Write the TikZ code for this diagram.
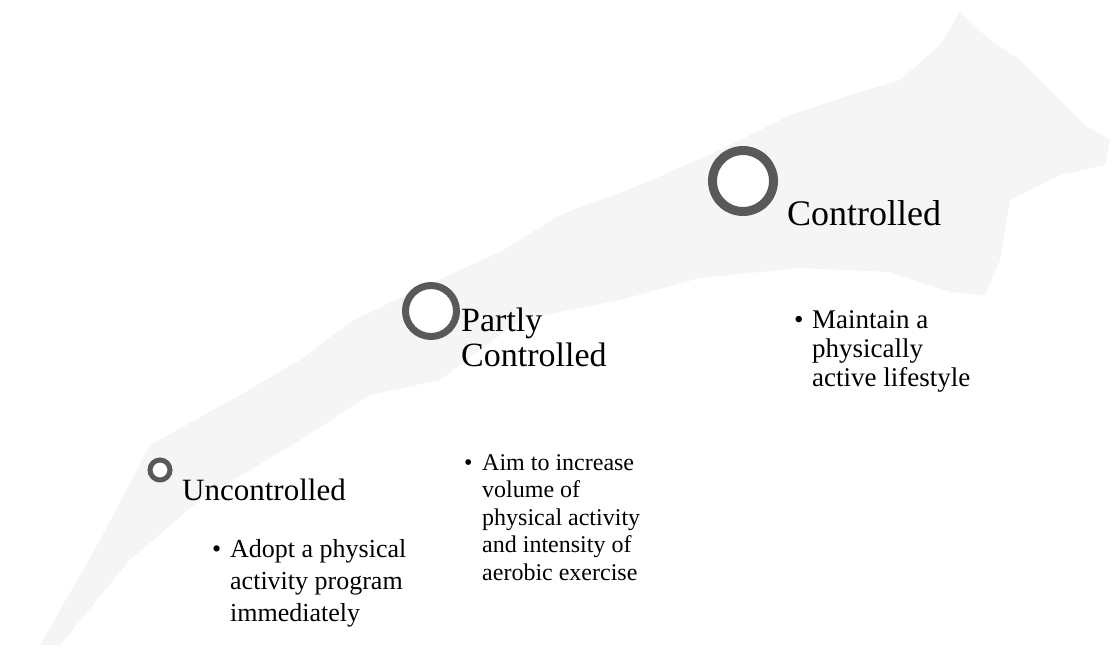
\documentclass[tikz,border=0pt]{standalone}
\usepackage{fontspec}
\setmainfont{Liberation Serif}
\begin{document}
\begin{tikzpicture}[x=1pt,y=-1pt,
  ring/.style={draw=black!65, line width=#1, fill=white},
  head/.style={anchor=north west, inner sep=0pt, align=left},
  bul/.style={anchor=north west, inner sep=0pt, align=left}]
\useasboundingbox (0,0) rectangle (1113,654);
% faint background band
\fill[black!4] (40,645) -- (100,540) -- (150,445) -- (240,395) -- (300,360) -- (350,322)
  -- (420,288) -- (500,252) -- (560,215) -- (640,185) -- (720,150) -- (790,115)
  -- (850,95) -- (900,80) -- (940,45) -- (960,12) -- (990,40) -- (1020,60)
  -- (1060,100) -- (1085,125) -- (1110,140) -- (1105,165) -- (1060,175)
  -- (1010,200) -- (1000,260) -- (985,295) -- (950,292) -- (890,272) -- (800,268)
  -- (700,278) -- (620,300) -- (520,320) -- (440,380) -- (370,395) -- (300,440)
  -- (200,500) -- (130,560) -- (60,645) -- cycle;
% rings
\node[circle, ring=5pt, minimum size=20pt, inner sep=0pt] (c1) at (160,470) {};
\node[circle, ring=7pt, minimum size=51pt, inner sep=0pt] (c2) at (431,311) {};
\node[circle, ring=9pt, minimum size=61pt, inner sep=0pt] (c3) at (743,181) {};
% headings
\node[head, font=\fontsize{31}{35}\selectfont] (h1) at (182,479) {Uncontrolled};
\node[head, font=\fontsize{34}{35}\selectfont] (h2) at (461,308) {Partly\\Controlled};
\node[head, font=\fontsize{36}{38}\selectfont] (h3) at (787,200) {Controlled};
% bullets
\node[bul, font=\fontsize{26}{32}\selectfont] (b1) at (212,539)
  {\makebox[18pt][l]{•}Adopt a physical\\\hspace*{18pt}activity program\\\hspace*{18pt}immediately};
\node[bul, font=\fontsize{24}{27.5}\selectfont] (b2) at (464,454)
  {\makebox[18pt][l]{•}Aim to increase\\\hspace*{18pt}volume of\\\hspace*{18pt}physical activity\\\hspace*{18pt}and intensity of\\\hspace*{18pt}aerobic exercise};
\node[bul, font=\fontsize{27}{29}\selectfont] (b3) at (794,310)
  {\makebox[18pt][l]{•}Maintain a\\\hspace*{18pt}physically\\\hspace*{18pt}active lifestyle};
\end{tikzpicture}
\end{document}
